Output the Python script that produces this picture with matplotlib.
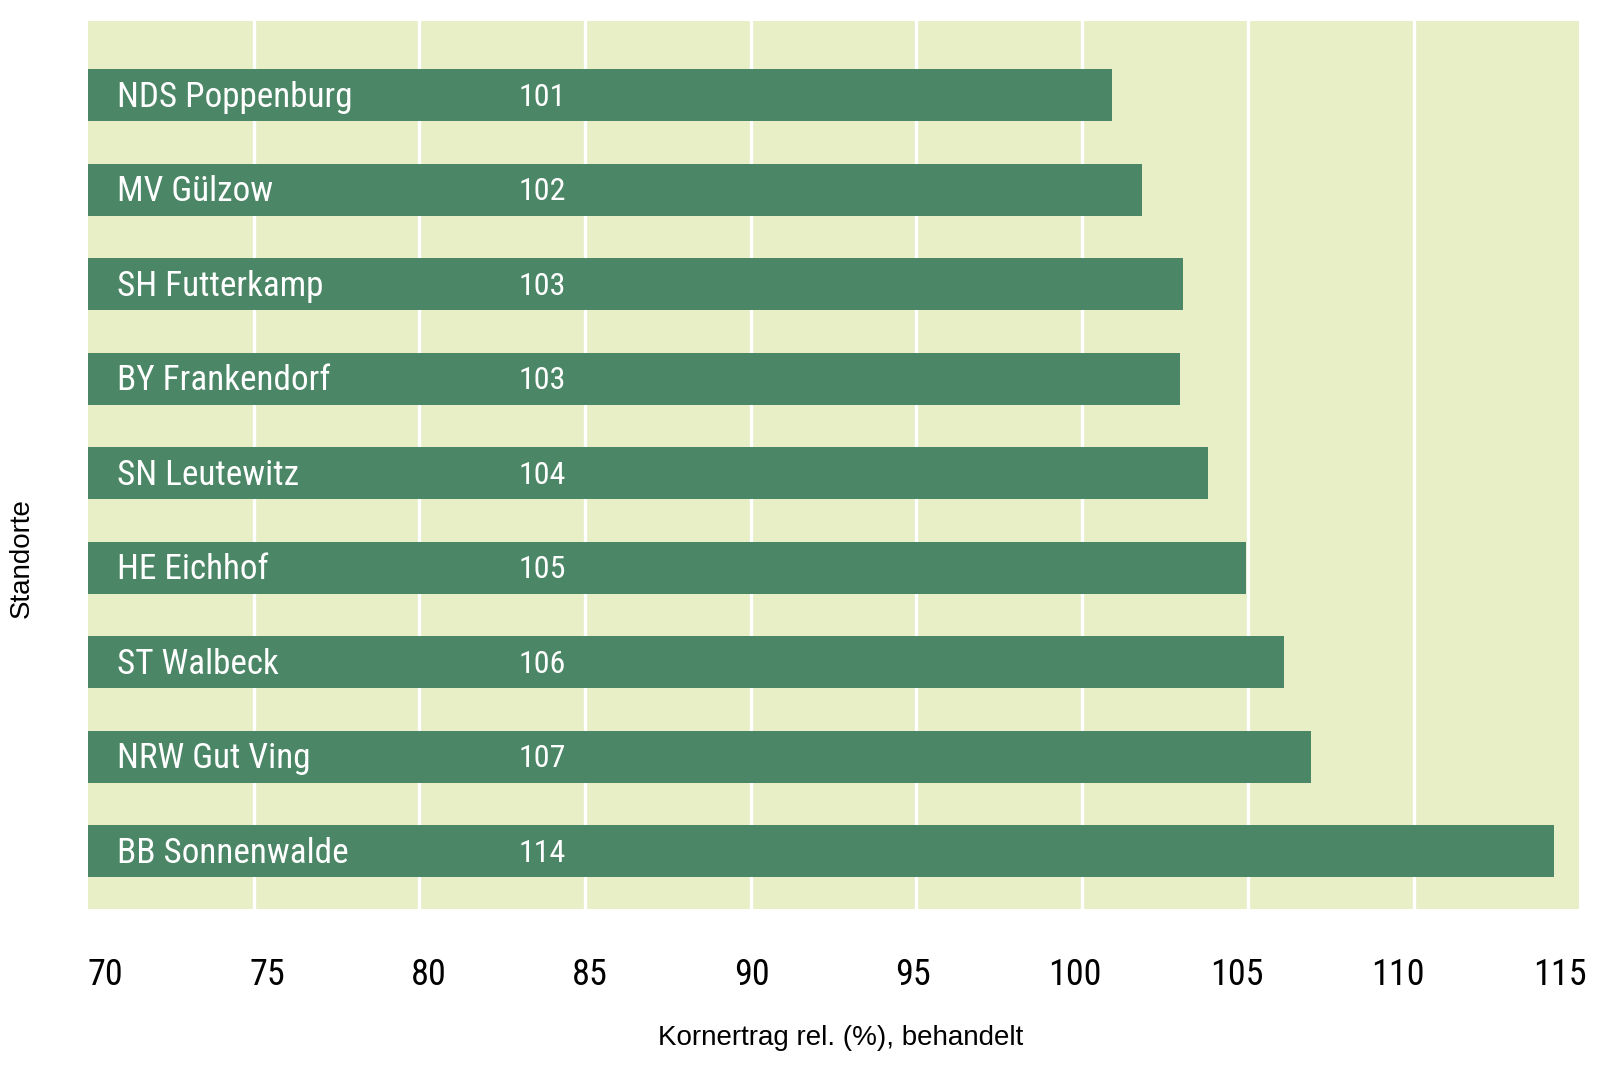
import matplotlib
matplotlib.use('Agg')
import matplotlib.pyplot as plt
import matplotlib.transforms as mtransforms
from matplotlib import font_manager

# Daten
standorte = ['NDS Poppenburg', 'MV Gülzow', 'SH Futterkamp', 'BY Frankendorf',
             'SN Leutewitz', 'HE Eichhof', 'ST Walbeck', 'NRW Gut Ving', 'BB Sonnenwalde']
werte = [100.9, 101.8, 103.05, 102.95, 103.8, 104.95, 106.1, 106.9, 114.25]
beschriftung = ['101', '102', '103', '103', '104', '105', '106', '107', '114']
ticks = [70, 75, 80, 85, 90, 95, 100, 105, 110, 115]

# schmale Schrift suchen, falls vorhanden
installiert = {f.name for f in font_manager.fontManager.ttflist}
schmal = 'DejaVu Sans'
for name in ['Roboto Condensed', 'Liberation Sans Narrow', 'Open Sans Condensed',
             'Noto Sans Condensed', 'DejaVu Sans Condensed']:
    if name in installiert:
        schmal = name
        break

hintergrund = '#e8efc7'
balken = '#4b8766'

fig = plt.figure(figsize=(16, 10.82), dpi=100)
ax = fig.add_axes([0.055, 0.160, 0.932, 0.821])
ax.set_facecolor(hintergrund)

pos = list(range(len(standorte)))
ax.barh(pos, [w - 70 for w in werte], left=70, height=0.55, color=balken, zorder=3)

ax.set_xlim(70, 115)
ax.set_ylim(len(standorte) - 1 + 0.61, -0.79)

for x in ticks[1:-1]:
    ax.axvline(x, color='white', linewidth=2.4, zorder=2)

for p, name, lab in zip(pos, standorte, beschriftung):
    ax.text(70.88, p + 0.02, name, color='white', fontsize=25.3, family=schmal,
            va='center', ha='left', zorder=4)
    ax.text(83.0, p + 0.02, lab, color='white', fontsize=23, family=schmal,
            va='center', ha='left', zorder=4)

ax.set_yticks([])
ax.set_xticks(ticks)
ax.set_xticklabels([str(t) for t in ticks], fontsize=26, family=schmal)
ax.tick_params(axis='x', length=0, pad=35)
# Beschriftungen leicht zusammengeschoben wie im Original
for i, lbl in enumerate(ax.get_xticklabels()):
    dx = (17.3 - 4.1 * i) / 100
    lbl.set_transform(lbl.get_transform() + mtransforms.ScaledTranslation(dx, 0, fig.dpi_scale_trans))

for s in ax.spines.values():
    s.set_visible(False)

fig.text(841 / 1600, 1 - 1038 / 1082, 'Kornertrag rel. (%), behandelt', ha='center', va='center',
         fontsize=20, family='Liberation Sans', color='black')
fig.text(22 / 1600, 1 - 558 / 1082, 'Standorte', rotation=90, ha='center', va='center',
         fontsize=20, family='Liberation Sans', color='black')

fig.savefig('out.png', dpi=100, facecolor='white')
